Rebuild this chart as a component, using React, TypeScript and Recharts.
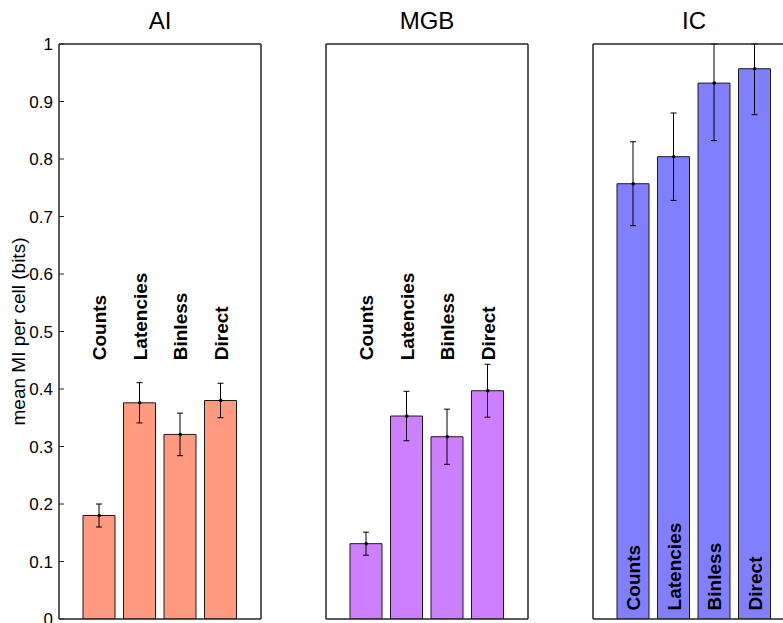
import React from 'react';
import { ComposedChart, Bar, Line, XAxis, YAxis, ErrorBar, LabelList } from 'recharts';

// bar categories, same for each panel
const methods = ['Counts', 'Latencies', 'Binless', 'Direct'];

// mean MI per cell (bits) and error half-widths
const aiMeans = [0.18, 0.376, 0.321, 0.38];
const aiErrors = [0.02, 0.035, 0.037, 0.03];
const mgbMeans = [0.131, 0.353, 0.317, 0.397];
const mgbErrors = [0.02, 0.043, 0.048, 0.046];
const icMeans = [0.757, 0.804, 0.932, 0.957];
const icErrors = [0.073, 0.076, 0.1, 0.08];

const yTicks = [0, 0.1, 0.2, 0.3, 0.4, 0.5, 0.6, 0.7, 0.8, 0.9, 1];

const FONT = '"Liberation Sans", Arial, Helvetica, sans-serif';
const FRAME = '#262626';
const PLOT_W = 202;

interface PanelProps {
  title: string;
  means: number[];
  errors: number[];
  fill: string;
  left: number;
  withAxis: boolean;
  labelAt: number;
}

const renderMethod = (props: any) => {
  const { x, y, value } = props;
  return (
    <text
      x={x}
      y={y}
      dy="0.36em"
      transform={`rotate(-90, ${x}, ${y})`}
      textAnchor="start"
      fontFamily={FONT}
      fontWeight="bold"
      fontSize={19}
      fill="#000"
    >
      {value}
    </text>
  );
};

const renderYLabel = (props: any) => {
  const vb = props.viewBox;
  const cx = vb.x + 19;
  const cy = vb.y + vb.height / 2;
  return (
    <text
      x={cx}
      y={cy}
      dy="0.3em"
      transform={`rotate(-90, ${cx}, ${cy})`}
      textAnchor="middle"
      fontFamily={FONT}
      fontSize={19}
      fill="#000"
    >
      mean MI per cell (bits)
    </text>
  );
};

const Panel = ({ title, means, errors, fill, left, withAxis, labelAt }: PanelProps) => {
  // clip the upper whisker at the top of the axes like the original
  const data = methods.map((m, i) => ({
    method: m,
    mean: means[i],
    err: [errors[i], Math.min(errors[i], 1 - means[i])],
    labelPos: labelAt,
  }));
  const axisW = withAxis ? 59 : 1;
  const padL = withAxis ? 0 : 1;
  const width = padL + axisW + PLOT_W + 1 + 2;

  return (
    <div style={{ position: 'absolute', left: withAxis ? 0 : left - 2, top: 0 }}>
      <ComposedChart
        width={width}
        height={623}
        data={data}
        margin={{ top: 43, right: 2, bottom: 3, left: padL }}
      >
        <Bar
          dataKey="mean"
          fill={fill}
          stroke="#1a1a1a"
          strokeWidth={1}
          barSize={32}
          isAnimationActive={false}
        >
          <ErrorBar dataKey="err" direction="y" width={3} stroke="#000" strokeWidth={1} />
        </Bar>
        <Line
          dataKey="mean"
          stroke="none"
          dot={{ r: 1.8, fill: '#000', stroke: 'none' }}
          activeDot={false}
          isAnimationActive={false}
        />
        <Line dataKey="labelPos" stroke="none" dot={false} activeDot={false} isAnimationActive={false}>
          <LabelList dataKey="method" content={renderMethod} />
        </Line>

        <XAxis
          dataKey="method"
          type="category"
          padding={{ left: 20, right: 20 }}
          height={1}
          tick={false}
          tickLine={false}
          axisLine={{ stroke: FRAME, strokeWidth: 1.5 }}
        />
        <XAxis
          xAxisId="top"
          orientation="top"
          type="number"
          domain={[0, 1]}
          allowDataOverflow
          height={1}
          tick={false}
          tickLine={false}
          axisLine={{ stroke: FRAME, strokeWidth: 1.5 }}
          label={{ value: title, position: 'top', offset: 14, fontSize: 24, fill: '#000', fontFamily: FONT }}
        />
        <YAxis
          type="number"
          domain={[0, 1]}
          allowDataOverflow
          ticks={yTicks}
          width={axisW}
          tick={withAxis ? { fill: '#000', fontSize: 17, fontFamily: FONT } : false}
          tickLine={withAxis ? { stroke: FRAME } : false}
          tickSize={-5}
          tickMargin={11}
          interval={0}
          axisLine={{ stroke: FRAME, strokeWidth: 1.5 }}
          label={withAxis ? renderYLabel : undefined}
        />
        <YAxis
          yAxisId="right"
          orientation="right"
          type="number"
          domain={[0, 1]}
          allowDataOverflow
          ticks={yTicks}
          width={1}
          tick={false}
          tickLine={withAxis ? { stroke: FRAME } : false}
          tickSize={-5}
          interval={0}
          axisLine={{ stroke: FRAME, strokeWidth: 1.5 }}
        />
      </ComposedChart>
    </div>
  );
};

export default function App() {
  return (
    <div
      style={{
        position: 'absolute',
        left: 0,
        top: 0,
        width: 783,
        height: 623,
        overflow: 'hidden',
        background: '#fff',
      }}
    >
      <Panel title="AI" means={aiMeans} errors={aiErrors} fill="#FF9980" left={59} withAxis labelAt={0.45} />
      <Panel title="MGB" means={mgbMeans} errors={mgbErrors} fill="#CC80FF" left={326} withAxis={false} labelAt={0.45} />
      <Panel title="IC" means={icMeans} errors={icErrors} fill="#8080FF" left={593} withAxis={false} labelAt={0.015} />
    </div>
  );
}
